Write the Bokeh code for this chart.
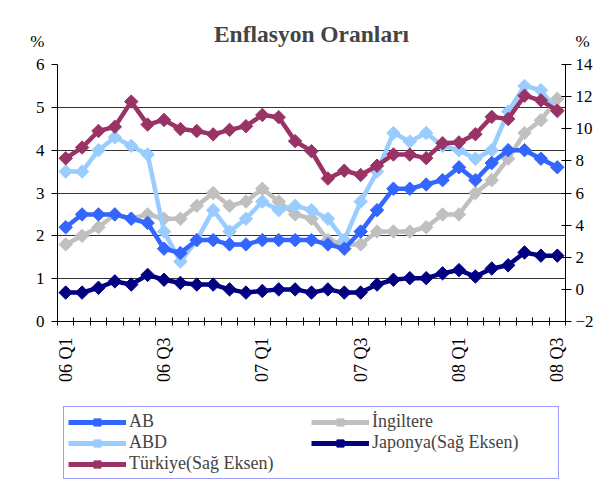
import numpy as np
from bokeh.plotting import figure
from bokeh.layouts import column
from bokeh.models import Range1d, LinearAxis, FixedTicker, Legend, LegendItem
from bokeh.embed import file_html
from bokeh.resources import INLINE

# Monthly data, Mar 2006 .. Sep 2008 (31 months); labels every 6 months
months = list(range(31))
tick_positions = [0, 6, 12, 18, 24, 30]
tick_labels = ["06 Q1", "06 Q3", "07 Q1", "07 Q3", "08 Q1", "08 Q3"]

ab = [2.2, 2.5, 2.5, 2.5, 2.4, 2.3, 1.7, 1.6, 1.9, 1.9, 1.8, 1.8, 1.9, 1.9, 1.9, 1.9,
      1.8, 1.7, 2.1, 2.6, 3.1, 3.1, 3.2, 3.3, 3.6, 3.3, 3.7, 4.0, 4.0, 3.8, 3.6]
abd = [3.5, 3.5, 4.0, 4.3, 4.1, 3.9, 2.1, 1.4, 1.9, 2.6, 2.1, 2.4, 2.8, 2.6, 2.7, 2.6,
       2.4, 1.9, 2.8, 3.5, 4.4, 4.2, 4.4, 4.1, 4.0, 3.8, 4.0, 4.9, 5.5, 5.4, 4.9]
ingiltere = [1.8, 2.0, 2.2, 2.5, 2.4, 2.5, 2.4, 2.4, 2.7, 3.0, 2.7, 2.8, 3.1, 2.8, 2.5, 2.4,
             1.9, 1.8, 1.8, 2.1, 2.1, 2.1, 2.2, 2.5, 2.5, 3.0, 3.3, 3.8, 4.4, 4.7, 5.2]
japonya = [-0.2, -0.2, 0.1, 0.5, 0.3, 0.9, 0.6, 0.4, 0.3, 0.3, 0.0, -0.2, -0.1, 0.0, 0.0, -0.2,
           0.0, -0.2, -0.2, 0.3, 0.6, 0.7, 0.7, 1.0, 1.2, 0.8, 1.3, 1.5, 2.3, 2.1, 2.1]
turkiye = [8.16, 8.83, 9.86, 10.12, 11.69, 10.26, 10.55, 9.98, 9.86, 9.65, 9.93, 10.16, 10.86,
           10.72, 9.23, 8.60, 6.90, 7.39, 7.12, 7.70, 8.40, 8.39, 8.17, 9.10, 9.15, 9.66,
           10.74, 10.61, 12.06, 11.77, 11.13]

left_ticks = [0, 1, 2, 3, 4, 5, 6]
right_ticks = [-2, 0, 2, 4, 6, 8, 10, 12, 14]
unit_label = "%"

FONT = "Liberation Serif"

p = figure(frame_width=508, frame_height=257, output_backend="svg", toolbar_location=None,
           x_range=Range1d(-0.5, 30.5), y_range=Range1d(0, 6),
           min_border_left=57, min_border_right=45, min_border_top=64, min_border_bottom=0)
p.extra_y_ranges = {"right": Range1d(-2, 14)}
p.outline_line_color = None
p.background_fill_color = "white"
p.border_fill_color = "white"

p.title.text = "Enflasyon Oranları"
p.title.text_font = FONT
p.title.text_font_size = "23.5px"
p.title.text_font_style = "bold"
p.title.align = "center"
p.title.standoff = 36

# x axis
xa = p.xaxis[0]
xa.ticker = FixedTicker(ticks=tick_positions, minor_ticks=[m - 0.5 for m in months] + [30.5])
xa.major_label_overrides = {t: l for t, l in zip(tick_positions, tick_labels)}
xa.major_label_orientation = np.pi / 2
xa.major_tick_line_color = None
xa.major_tick_in = 0
xa.major_tick_out = 4
xa.minor_tick_in = 4
xa.minor_tick_out = 4
xa.minor_tick_line_color = "black"
xa.axis_line_color = "black"
xa.major_label_text_font = FONT
xa.major_label_text_font_size = "18px"
xa.major_label_text_color = "black"
xa.major_label_standoff = 12

# left axis (unit sign shown above the top tick label)
ya = p.yaxis[0]
ya.ticker = FixedTicker(ticks=left_ticks)
ya.major_label_overrides = {left_ticks[-1]: unit_label + "\n" + str(left_ticks[-1]) + "\n\u00a0"}
ya.major_tick_in = 0
ya.major_tick_out = 6
ya.minor_tick_line_color = None
ya.axis_line_color = "black"
ya.major_tick_line_color = "black"
ya.major_label_text_font = FONT
ya.major_label_text_font_size = "17px"
ya.major_label_text_color = "black"
ya.major_label_standoff = 7

# right axis
ra = LinearAxis(y_range_name="right", ticker=FixedTicker(ticks=right_ticks))
ra.major_label_overrides = {right_ticks[-1]: unit_label + "\n" + str(right_ticks[-1]) + "\n\u00a0"}
ra.major_tick_in = 4
ra.major_tick_out = 6
ra.minor_tick_line_color = None
ra.axis_line_color = "black"
ra.major_tick_line_color = "black"
ra.major_label_text_font = FONT
ra.major_label_text_font_size = "17px"
ra.major_label_text_color = "black"
ra.major_label_standoff = 4
p.add_layout(ra, "right")

p.xgrid.grid_line_color = None
p.ygrid.ticker = FixedTicker(ticks=left_ticks)
p.ygrid.grid_line_color = "#333333"
p.ygrid.grid_line_width = 1

series = [
    ("AB", ab, "#3366FF", "default"),
    ("ABD", abd, "#99CCFF", "default"),
    ("Türkiye(Sağ Eksen)", turkiye, "#993366", "right"),
    ("İngiltere", ingiltere, "#C0C0C0", "default"),
    ("Japonya(Sağ Eksen)", japonya, "#000080", "right"),
]
draw_order = [3, 1, 0, 4, 2]
for k in draw_order:
    name, vals, col, rng = series[k]
    p.line(months, vals, line_color=col, line_width=4.5, y_range_name=rng)
    p.scatter(months, vals, marker="square", angle=np.pi / 4, size=9.5,
              fill_color=col, line_color=col, y_range_name=rng)

# legend figure: same series drawn off-range, only the legend is visible
lg = figure(width=610, height=104, output_backend="svg", toolbar_location=None,
            x_axis_type=None, y_axis_type=None,
            x_range=Range1d(-200, -199), y_range=Range1d(-200, -199), min_border=0)
lg.outline_line_color = None
lg.xgrid.visible = False
lg.ygrid.visible = False
lg_renderers = {}
for name, vals, col, rng in series:
    l = lg.line(months, vals, line_color=col, line_width=5)
    s = lg.scatter(months, vals, marker="square", angle=np.pi / 4, size=10,
                   fill_color=col, line_color=col)
    lg_renderers[name] = [l, s]

items = [LegendItem(label=name, renderers=lg_renderers[name]) for name, _, _, _ in series]
legend = Legend(items=items, orientation="vertical", nrows=3,
                label_text_font=FONT, label_text_font_size="18px",
                label_height=18, glyph_height=18, glyph_width=58, label_width=182,
                label_standoff=3, spacing=0, padding=4, margin=0,
                border_line_color="#3a3aff", border_line_width=1,
                location=(6, 9))
lg.add_layout(legend, "center")

layout = column(p, lg, spacing=0)
open("out.html", "w").write(file_html(layout, INLINE))
